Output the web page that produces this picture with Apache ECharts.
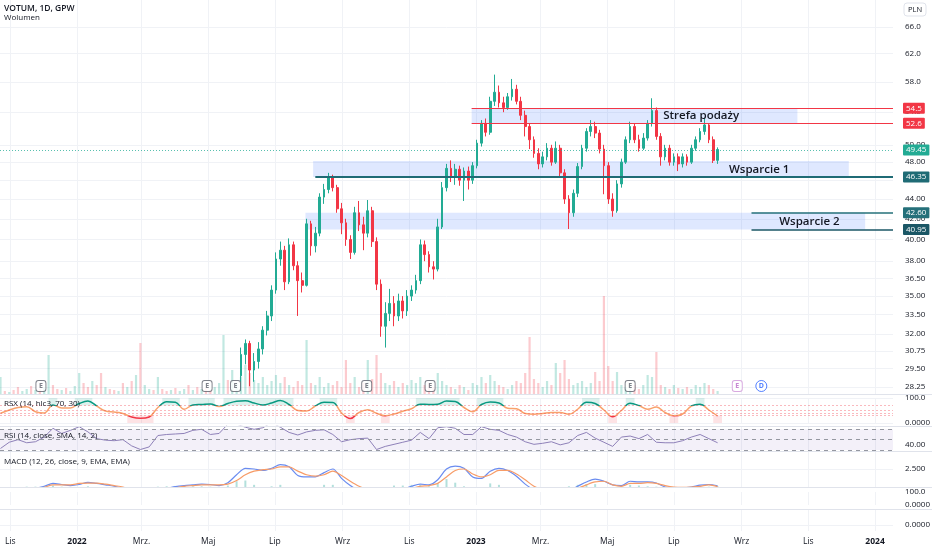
<!DOCTYPE html>
<html><head><meta charset="utf-8">
<script src="https://cdn.jsdelivr.net/npm/echarts@6.0.0/dist/echarts.min.js"></script>
<style>html,body{margin:0;padding:0;background:#fff}#c{width:932px;height:550px}</style>
</head><body><div id="c"></div>
<script>
// ---------- DATA ----------
const seriesStart = '2021-10-23';      // first sample date
const sampleStepDays = 4;              // volume / candle sampling
const indicatorStepDays = 8;           // indicator sampling
const candleStartIndex = 55;           // first visible candle (price below view before)

// [open, close, low, high]
const candles = [
[29.0,30.5,28.0,31.0],[30.5,31.3,29.8,31.6],[31.3,29.4,28.3,31.5],[29.4,30.0,28.6,30.6],[30.0,30.9,29.5,31.4],
[30.9,32.3,30.5,32.6],[32.3,33.4,31.9,33.8],[33.4,35.5,33.0,35.9],[35.5,38.2,35.2,38.8],[38.2,39.0,37.6,39.8],
[39.0,36.2,35.5,39.4],[36.2,39.5,36.0,40.1],[39.5,37.6,37.2,39.8],[37.6,36.3,33.4,38.0],[36.3,35.9,35.3,37.0],
[35.9,41.5,35.8,42.0],[41.5,39.4,38.5,41.8],[39.4,40.6,38.8,41.2],[40.6,44.2,40.3,44.6],[44.2,45.0,43.5,45.6],
[45.0,46.3,44.6,46.8],[46.3,45.2,44.8,46.6],[45.2,43.0,42.6,45.5],[43.0,41.6,40.5,43.6],[41.6,40.0,39.4,42.0],
[40.0,38.8,38.2,40.4],[38.8,42.6,38.6,43.2],[42.6,41.4,40.8,43.8],[41.4,40.6,39.0,42.2],[40.6,42.8,40.2,43.9],
[42.8,39.8,39.3,43.2],[39.8,36.0,35.5,40.2],[36.0,32.6,31.8,36.4],[32.6,33.6,31.0,34.5],[33.6,34.4,33.0,35.6],
[34.4,33.4,32.6,35.0],[33.4,34.6,33.0,35.2],[34.6,33.8,33.2,35.0],[33.8,35.0,33.4,35.5],[35.0,35.5,34.6,35.9],
[35.5,36.3,35.2,36.8],[36.3,39.5,36.0,40.0],[39.5,38.6,38.0,39.9],[38.6,37.5,37.0,38.9],[37.5,37.3,36.4,38.0],
[37.3,41.2,37.1,42.0],[41.2,45.2,41.0,45.8],[45.2,47.3,44.8,47.8],[47.3,46.4,45.8,48.2],[46.4,47.2,45.5,47.8],
[47.2,46.0,45.4,47.6],[46.0,47.0,43.8,47.4],[47.0,46.0,45.0,47.5],[46.0,47.6,45.6,48.0],[47.6,50.2,47.3,50.6],
[50.2,52.6,49.8,53.0],[52.6,51.5,51.0,53.2],[51.5,55.4,51.2,56.0],[55.4,56.6,54.8,59.0],[56.6,55.2,54.6,57.5],
[55.2,54.6,54.0,56.0],[54.6,56.0,54.3,56.5],[56.0,57.0,55.5,58.4],[57.0,55.4,55.0,57.6],[55.4,53.6,53.0,56.0],
[53.6,52.2,51.0,54.2],[52.2,50.6,49.5,52.6],[50.6,49.0,48.5,51.0],[49.0,47.8,47.2,49.6],[47.8,48.6,47.4,49.2],
[48.6,49.6,48.2,50.2],[49.6,48.0,47.6,50.0],[48.0,49.6,47.8,50.4],[49.6,46.8,46.4,50.0],[46.8,44.0,43.5,47.2],
[44.0,42.6,41.0,44.4],[42.6,44.6,42.2,45.0],[44.6,47.5,44.2,47.9],[47.5,49.6,47.2,50.0],[49.6,51.6,49.2,52.0],
[51.6,52.2,51.0,53.0],[52.2,51.4,50.8,52.8],[51.4,49.5,49.0,51.8],[49.5,47.6,44.5,50.0],[47.6,44.0,43.5,48.0],
[44.0,42.8,42.2,44.6],[42.8,45.6,42.6,46.0],[45.6,48.0,45.2,48.4],[48.0,50.6,47.8,51.0],[50.6,52.2,50.2,52.8],
[52.2,50.6,50.2,52.6],[50.6,49.6,49.2,51.2],[49.6,50.8,49.4,51.4],[50.8,52.6,50.5,53.0],[52.6,54.2,52.2,55.8],
[54.2,51.0,50.6,54.6],[51.0,48.6,47.6,51.4],[48.6,49.6,48.2,50.0],[49.6,48.0,47.6,50.0],[48.0,48.6,47.6,49.0],
[48.6,47.8,47.0,49.0],[47.8,48.6,47.4,49.0],[48.6,48.0,47.6,48.9],[48.0,49.6,47.8,50.0],[49.6,50.6,49.3,51.0],
[50.6,51.6,50.3,52.0],[51.6,52.4,51.2,53.2],[52.4,50.6,50.2,52.6],[50.6,48.2,47.9,51.0],[48.2,49.45,47.8,49.7]
];

// volume (thousand shares), one sample every 4 days
const volume = [
18,4,3,5,8,4,6,9,5,6, 8,40,10,6,5,7,4,9,22,12, 8,14,10,22,8,6,5,4,12,8,
14,20,52,10,6,5,18,6,4,5, 7,4,6,10,5,8,6,7,5,8, 12,60,15,25,12,18,30,22,15,12,
18,10,14,20,12,18,10,8,14,10, 55,12,10,18,8,12,10,14,8,35, 12,18,8,12,35,16,40,22,12,10,
14,8,12,10,15,12,18,10,12,8, 22,14,10,8,6,10,8,5,12,10, 18,12,20,14,10,8,6,10,14,12,
22,58,16,12,8,14,10,32,22,35, 16,10,12,14,8,12,23,14,99,29, 14,23,10,8,12,10,6,10,20,18,
43,10,8,6,10,7,6,8,6,10, 8,12,10,6,4
];
// direction (1 up / 0 down) of the early sessions before visible candles
const earlyVolDir = [1,0,1,0,0,1,1,0,1,0, 1,1,0,0,1,0,1,1,1,0, 0,1,0,0,1,0,0,1,0,1,
  0,1,0,1,1,0,1,0,0,1, 0,1,1,0,1,0,1,0,0,1, 1,1,0,1,1];

// indicators, one sample every 8 days
const rsx = [39,52,62,65,45,40,72,60,60,78, 88,68,48,44,38,24,19,24,62,85, 83,55,72,74,76,66,78,87,89,80,
  72,80,90,74,50,48,68,83,82,40, 18,42,53,39,29,36,47,57,75,74, 75,88,86,62,45,74,84,80,59,57,
  38,35,38,42,42,35,55,83,78,52, 25,50,79,70,55,64,42,29,36,68, 75,52,28];
const rsi = [33,45,50,44,46,55,72,62,68,75, 65,52,49,48,50,38,31,36,58,60, 61,62,68,70,60,62,80,80,74,70,
  73,83,74,64,59,65,68,69,60,46, 50,52,53,31,37,41,45,49,64,52, 73,75,72,60,60,75,70,68,60,55,
  46,41,43,46,40,44,58,64,53,45, 37,55,57,52,60,45,44,44,48,55, 60,52,44];
const macd = [-0.6,-0.5,-0.4,-0.3,-0.2,0.1,0.5,0.35,0.2,0.35, 0.65,0.5,0.3,0.1,-0.2,-0.5,-0.7,-0.6,-0.4,-0.2,
  0.05,0.2,0.3,0.4,0.35,0.2,0.6,1.7,2.6,2.5, 2.3,2.6,3.1,2.8,1.6,1.4,1.4,2.0,2.5,1.2,
  0.2,-0.5,-1.0,-1.2,-1.0,-0.6,-0.3,0.1,0.4,0.3, 1.0,2.5,2.9,2.6,1.4,1.2,2.2,2.6,2.3,1.5,
  0.4,-0.4,-0.8,-1.0,-0.9,-0.5,0.1,0.7,1.1,0.8, 0.3,0.2,0.8,0.7,0.7,0.55,0.0,-0.1,-0.1,0.0, 0.25,0.35,0.15];
const signal = [-0.5,-0.5,-0.4,-0.35,-0.25,-0.05,0.3,0.3,0.3,0.5, 0.55,0.55,0.4,0.2,0.0,-0.3,-0.5,-0.55,-0.45,-0.3,
  -0.1,0.1,0.2,0.3,0.3,0.3,0.4,0.9,1.7,2.2, 2.4,2.5,2.8,2.8,2.2,1.7,1.5,1.7,2.2,1.6,
  0.8,0.1,-0.4,-0.8,-0.9,-0.8,-0.5,-0.2,0.1,0.2, 0.5,1.4,2.3,2.5,1.8,1.4,1.7,2.3,2.3,1.8,
  1.0,0.1,-0.4,-0.7,-0.8,-0.6,-0.2,0.3,0.7,0.8, 0.3,0.1,0.5,0.5,0.6,0.5,0.2,0.0,-0.05,0.0, 0.1,0.3,0.05];
const hist = [-0.1,0,0,0.05,0.05,0.15,0.2,0.05,-0.1,-0.15, 0.1,-0.05,-0.1,-0.1,-0.2,-0.2,-0.2,-0.05,0.05,0.1,
  0.15,0.1,0.1,0.1,0.05,-0.1,0.2,0.8,0.9,0.3, -0.1,0.1,0.3,0,-0.6,-0.3,-0.1,0.3,0.3,-0.4,
  -0.6,-0.6,-0.6,-0.4,-0.1,0.2,0.2,0.3,0.3,0.1, 0.5,1.1,0.6,0.1,-0.4,-0.2,0.5,0.3,0,-0.3,
  -0.6,-0.5,-0.4,-0.3,-0.1,0.1,0.3,0.4,0.4,0, 0,0.1,0.3,0.2,0.1,0.05,-0.2,-0.1,-0.05,0, 0.15,0.05,0.1];

// axis ticks
const priceTickLabels = ['66.0','62.0','58.0','54.0','50.00','48.00','46.00','44.00','42.00','40.00','38.00','36.50','35.00','33.50','32.00','30.75','29.50','28.25'];
const timeTickDates = ['2021-11-01','2022-01-01','2022-03-01','2022-05-01','2022-07-01','2022-09-01','2022-11-01','2023-01-01','2023-03-01','2023-05-01','2023-07-01','2023-09-01','2023-11-01','2024-01-01'];
const timeTickLabels = ['Lis','2022','Mrz.','Maj','Lip','Wrz','Lis','2023','Mrz.','Maj','Lip','Wrz','Lis','2024'];

// drawings
const zoneNames = ['Strefa podaży','Wsparcie 1','Wsparcie 2'];
const zoneFrom = ['2022-12-28','2022-08-05','2022-07-29'];
const zoneTo   = ['2023-10-22','2023-12-08','2023-12-23'];
const zoneLow  = [52.6, 46.35, 40.95];
const zoneHigh = [54.5, 48.13, 42.6];
const noteDates  = ['2023-07-26','2023-09-17','2023-11-02'];
const notePrices = [53.5, 47.1, 41.7];
const levelValues = [54.5, 52.6, 46.35, 42.6, 40.95];
const levelLabels = ['54.5','52.6','46.35','42.60','40.95'];
const levelFrom   = ['2022-12-28','2022-12-28','2022-08-07','2023-09-10','2023-09-10'];
const lastPrice = 49.45;
const earningsDates = ['2021-11-29','2022-04-30','2022-05-26','2022-09-23','2022-11-20','2023-05-22'];
const nextEarningsDates = ['2023-08-28'];
const dividendDates = ['2023-09-19'];

// ---------- BUILD ----------
const DAY = 864e5;
const ts = s => Date.parse(s + 'T00:00:00Z');
const t0 = ts(seriesStart);
const dates = volume.map((_, i) => t0 + i * sampleStepDays * DAY);
const indDates = rsx.map((_, j) => t0 + j * indicatorStepDays * DAY);
const xMin = Date.UTC(2021, 9, 22, 13, 26);
const xMax = Date.UTC(2024, 0, 17, 10, 48);
const priceMin = 27.72, priceMax = 70.35;
const L = Math.log;
const UP = '#22ab94', DOWN = '#f23645';
const FONT = '"Open Sans", "DejaVu Sans", sans-serif';

const candleData = candles.map((r, k) => [dates[candleStartIndex + k], L(r[0]), L(r[1]), L(r[2]), L(r[3])]);
const volData = volume.map((v, i) => {
  let up;
  if (i >= candleStartIndex) { const c = candles[i - candleStartIndex]; up = c[1] >= c[0]; }
  else up = earlyVolDir[i] === 1;
  return { value: [dates[i], v], itemStyle: { color: up ? 'rgba(34,171,148,0.28)' : 'rgba(242,54,69,0.26)' } };
});
const priceTickVals = priceTickLabels.map(s => L(parseFloat(s)));
const timeTickVals = timeTickDates.map(ts);

function runs(vals, test) {
  const out = []; let s = -1;
  vals.forEach((v, j) => { if (test(v)) { if (s < 0) s = j; } else if (s >= 0) { out.push([s, j - 1]); s = -1; } });
  if (s >= 0) out.push([s, vals.length - 1]);
  return out;
}
const half = indicatorStepDays * DAY / 2;
const rsxShade = [];
runs(rsx, v => v > 70).forEach(([a, b]) => rsxShade.push([{ xAxis: indDates[a] - half, yAxis: 70, itemStyle: { color: 'rgba(8,153,129,0.14)' } }, { xAxis: indDates[b] + half, yAxis: 100 }]));
runs(rsx, v => v < 30).forEach(([a, b]) => rsxShade.push([{ xAxis: indDates[a] - half, yAxis: 0, itemStyle: { color: 'rgba(242,54,69,0.14)' } }, { xAxis: indDates[b] + half, yAxis: 30 }]));

const gridDefs = [
  { top: 0, height: 395 },      // price
  { top: 270, height: 125 },    // volume overlay
  { top: 398, height: 25 },     // RSX
  { top: 426.2, height: 25.9 }, // RSI
  { top: 452, height: 35 },     // MACD
  { top: 492, height: 13 },     // empty pane
  { top: 509, height: 22 }      // empty pane
];
const grids = gridDefs.map(g => ({ left: 0, right: 39, top: g.top, height: g.height, outerBoundsMode: 'none', containLabel: false }));

function nearest(arr, v) {
  let idx = 0, best = Infinity;
  arr.forEach((t, i) => { const d = Math.abs(t - v); if (d < best) { best = d; idx = i; } });
  return idx;
}

// time positions are plotted on a linear (value) axis of UTC timestamps
const xAxes = gridDefs.map((g, k) => ({
  type: 'value', gridIndex: k, min: xMin, max: xMax, scale: true,
  axisLine: { show: false }, axisTick: { show: false, customValues: timeTickVals },
  splitLine: { show: k !== 1, lineStyle: { color: '#f0f2f6', width: 1 } },
  axisLabel: {
    show: k === 6, customValues: timeTickVals, margin: 6, fontSize: 8.5, color: '#131722', fontFamily: FONT,
    formatter: v => {
      const s = timeTickLabels[nearest(timeTickVals, v)];
      return /^\d{4}$/.test(s) ? '{y|' + s + '}' : s;
    },
    rich: { y: { fontWeight: 'bold', fontSize: 8.5, color: '#131722', fontFamily: FONT } }
  }
}));

function valAxis(k, min, max, ticks, fmt, split) {
  return {
    type: 'value', gridIndex: k, position: 'right', min, max, scale: true,
    axisLine: { show: false }, axisTick: { show: false, customValues: ticks },
    splitLine: { show: split, lineStyle: { color: '#f0f2f6', width: 1 } },
    axisLabel: { show: ticks.length > 0, customValues: ticks, formatter: fmt, margin: 12, fontSize: 8, color: '#131722', fontFamily: FONT }
  };
}
const yAxes = [
  valAxis(0, L(priceMin), L(priceMax), priceTickVals, v => priceTickLabels[nearest(priceTickVals, v)], true),
  { type: 'value', gridIndex: 1, min: 0, max: 125, show: false },
  valAxis(2, 0, 100, [0, 100], v => v > 50 ? '100.0' : '0.0000', true),
  valAxis(3, 26, 76, [40], () => '40.00', false),
  valAxis(4, 0, 4.861, [2.5], () => '2.500', true),
  valAxis(5, 0, 100, [0, 100], v => v > 50 ? '100.0' : '0.0000', false),
  valAxis(6, -6, 16, [0], () => '0.0000', true)
];

const tag = (text, bg) => ({
  show: true, position: 'end', formatter: text, distance: 10, color: '#fff', backgroundColor: bg,
  fontSize: 8, fontFamily: FONT, padding: [2, 3, 1, 3], borderRadius: 1
});
const levelColors = ['#f23645', '#f23645', '#1f6b75', '#25707a', '#1b5766'];
const levelWidths = [1, 1, 2, 1.5, 1.5];
const levelLines = levelValues.map((v, i) => [
  { coord: [ts(levelFrom[i]), L(v)], lineStyle: { color: levelColors[i], width: levelWidths[i], type: 'solid' }, label: tag(levelLabels[i], levelColors[i]) },
  { coord: [xMax, L(v)] }
]);
levelLines.push({ yAxis: L(lastPrice), lineStyle: { color: 'rgba(34,171,148,0.75)', width: 1, type: [1, 2] }, label: tag(lastPrice.toFixed(2), UP) });

const eventData = [
  ...earningsDates.map(d => ({ value: [ts(d), 9], symbol: 'roundRect', itemStyle: { color: '#fff', borderColor: '#5d606b', borderWidth: 1 }, label: { formatter: 'E', color: '#5d606b' } })),
  ...nextEarningsDates.map(d => ({ value: [ts(d), 9], symbol: 'roundRect', itemStyle: { color: '#fff', borderColor: '#ce93d8', borderWidth: 1 }, label: { formatter: 'E', color: '#ba68c8' } })),
  ...dividendDates.map(d => ({ value: [ts(d), 9], symbol: 'circle', symbolSize: 11, itemStyle: { color: '#fff', borderColor: '#2962ff', borderWidth: 1 }, label: { formatter: 'D', color: '#2962ff' } }))
];

const option = {
  animation: false,
  backgroundColor: '#ffffff',
  textStyle: { fontFamily: FONT },
  grid: grids, xAxis: xAxes, yAxis: yAxes,
  visualMap: [{
    type: 'piecewise', show: false, seriesIndex: 3, dimension: 1,
    pieces: [{ lt: 30, color: '#f23645' }, { gte: 30, lte: 70, color: '#f9a26c' }, { gt: 70, color: '#089981' }]
  }],
  series: [
    {
      type: 'candlestick', xAxisIndex: 0, yAxisIndex: 0, data: candleData, encode: { x: 0, y: [1, 2, 3, 4] },
      barWidth: 2.2, clip: true, z: 3,
      itemStyle: { color: UP, color0: DOWN, borderColor: UP, borderColor0: DOWN, borderWidth: 1 },
      markArea: {
        silent: true,
        data: zoneNames.map((n, i) => [
          { xAxis: ts(zoneFrom[i]), yAxis: L(zoneHigh[i]), itemStyle: { color: 'rgba(41,98,255,0.15)' } },
          { xAxis: ts(zoneTo[i]), yAxis: L(zoneLow[i]) }
        ])
      },
      markLine: { silent: true, symbol: ['none', 'none'], data: levelLines },
      markPoint: {
        silent: true, symbol: 'circle', symbolSize: 2, itemStyle: { color: 'rgba(0,0,0,0)', borderWidth: 0 },
        label: { show: true, position: 'inside', formatter: p => p.name, fontSize: 11.5, fontWeight: 600, color: '#131722', fontFamily: FONT },
        data: zoneNames.map((n, i) => ({ name: n, coord: [ts(noteDates[i]), L(notePrices[i])] }))
      }
    },
    { type: 'bar', xAxisIndex: 1, yAxisIndex: 1, data: volData, barWidth: 2.2, z: 1 },
    {
      type: 'scatter', xAxisIndex: 1, yAxisIndex: 1, data: eventData, symbolSize: [10, 11], z: 5,
      label: { show: true, position: 'inside', fontSize: 7, fontFamily: FONT, fontWeight: 'bold' }
    },
    {
      type: 'line', xAxisIndex: 2, yAxisIndex: 2, data: indDates.map((t, j) => [t, rsx[j]]),
      showSymbol: false, smooth: 0.4, lineStyle: { width: 1.5 },
      markArea: { silent: true, data: rsxShade },
      markLine: { silent: true, symbol: ['none', 'none'], label: { show: false },
        lineStyle: { color: 'rgba(242,54,69,0.35)', type: [2, 2], width: 1 },
        data: [{ yAxis: 70 }, { yAxis: 50 }, { yAxis: 38 }, { yAxis: 30 }] }
    },
    {
      type: 'line', xAxisIndex: 3, yAxisIndex: 3, data: indDates.map((t, j) => [t, rsi[j]]),
      showSymbol: false, lineStyle: { width: 1, color: '#8e80b8' },
      markArea: { silent: true, data: [[{ xAxis: xMin, yAxis: 70, itemStyle: { color: 'rgba(126,87,194,0.09)' } }, { xAxis: xMax, yAxis: 30 }]] },
      markLine: { silent: true, symbol: ['none', 'none'], label: { show: false },
        lineStyle: { color: '#9598a1', type: [4, 4], width: 1 },
        data: [{ yAxis: 70 }, { yAxis: 50 }, { yAxis: 30 }] }
    },
    {
      type: 'bar', xAxisIndex: 4, yAxisIndex: 4, barWidth: 2,
      data: indDates.map((t, j) => ({ value: [t, hist[j]], itemStyle: { color: hist[j] >= 0 ? 'rgba(38,166,154,0.35)' : 'rgba(242,54,69,0.3)' } }))
    },
    { type: 'line', xAxisIndex: 4, yAxisIndex: 4, data: indDates.map((t, j) => [t, macd[j]]), showSymbol: false, smooth: 0.3, lineStyle: { width: 1.2, color: '#6a8cf0' } },
    { type: 'line', xAxisIndex: 4, yAxisIndex: 4, data: indDates.map((t, j) => [t, signal[j]]), showSymbol: false, smooth: 0.3, lineStyle: { width: 1.2, color: '#f79c68' } }
  ],
  graphic: [
    ...[394.5, 426.5, 451.5, 487.5, 509.5].map(y => ({ type: 'line', silent: true, z: 10, shape: { x1: 0, y1: y, x2: 932, y2: y }, style: { stroke: '#e0e3eb', lineWidth: 1 } })),
    { type: 'text', x: 4, y: 8.5, z: 20, style: { text: 'VOTUM, 1D, GPW', fill: '#131722', font: '600 8.5px ' + FONT, verticalAlign: 'middle', textVerticalAlign: 'middle' } },
    { type: 'text', x: 4, y: 17.5, z: 20, style: { text: 'Wolumen', fill: '#131722', font: '8px ' + FONT, verticalAlign: 'middle', textVerticalAlign: 'middle' } },
    { type: 'text', x: 4, y: 404, z: 20, style: { text: 'RSX (14, hlc3, 70, 30)', fill: '#131722', font: '8px ' + FONT, verticalAlign: 'middle', textVerticalAlign: 'middle' } },
    { type: 'text', x: 4, y: 435.5, z: 20, style: { text: 'RSI (14, close, SMA, 14, 2)', fill: '#131722', font: '8px ' + FONT, verticalAlign: 'middle', textVerticalAlign: 'middle' } },
    { type: 'text', x: 4, y: 462, z: 20, style: { text: 'MACD (12, 26, close, 9, EMA, EMA)', fill: '#131722', font: '8px ' + FONT, verticalAlign: 'middle', textVerticalAlign: 'middle' } },
    { type: 'rect', x: 904, y: 3, z: 20, shape: { width: 22, height: 13, r: 3 }, style: { fill: '#fff', stroke: '#e0e3eb', lineWidth: 1 } },
    { type: 'text', x: 915, y: 9.5, z: 21, style: { text: 'PLN', fill: '#131722', font: '7.5px ' + FONT, align: 'center', textAlign: 'center', verticalAlign: 'middle', textVerticalAlign: 'middle' } }
  ]
};
const chart = echarts.init(document.getElementById('c'));
chart.setOption(option);
</script>
</body></html>
